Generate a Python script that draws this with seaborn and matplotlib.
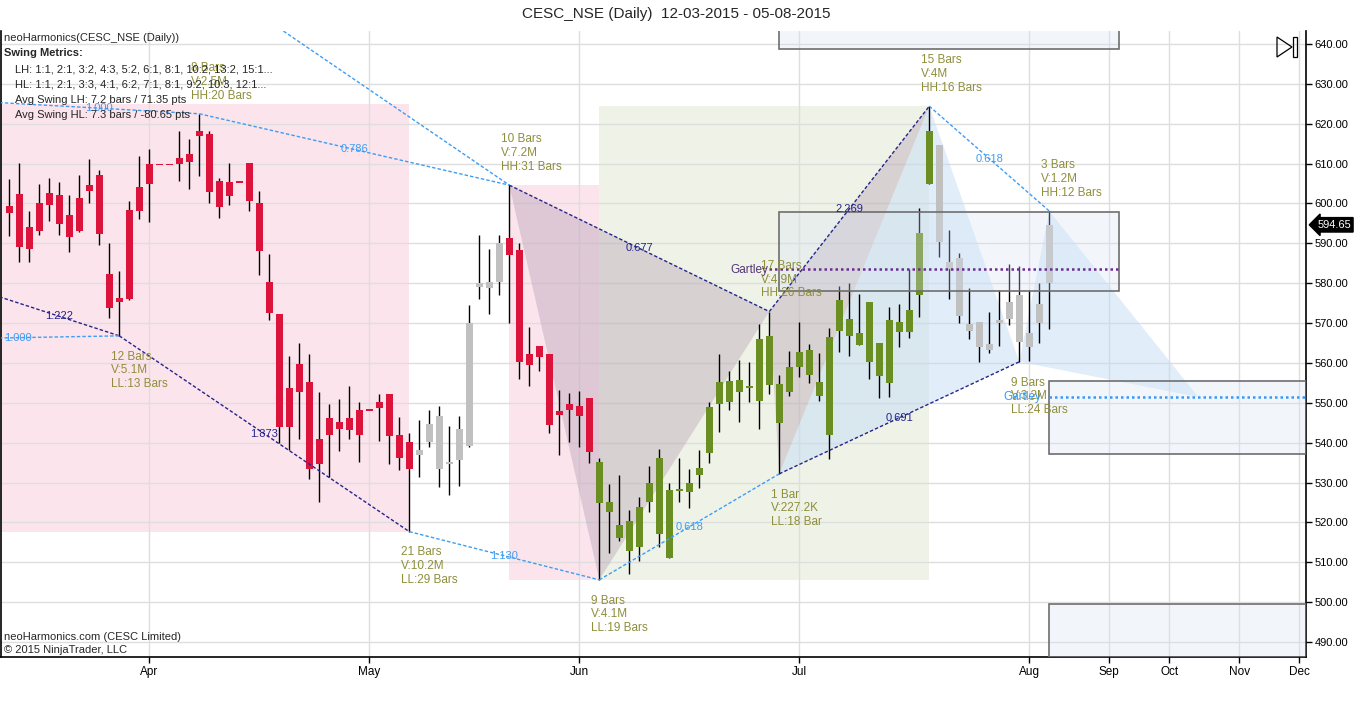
import numpy as np
import pandas as pd
import seaborn as sns
import matplotlib
matplotlib.use("Agg")
import matplotlib.pyplot as plt
from matplotlib.patches import Rectangle, Polygon

# daily bars, weekdays 12-03-2015 .. 05-08-2015 (holidays show as flat bars)
opens = [
    599.4, 602.4, 594.1, 600.1, 602.6, 602.1, 597.1, 601.4, 604.6, 607.2,
    582.3, 576.3, 598.4, 604.1, 609.9, 609.8, 609.8, 611.5, 612.4, 618.2,
    617.4, 605.6, 605.4, 605.3, 610.2, 600.1, 580.3, 572.3, 553.7, 559.7,
    555.2, 540.9, 546.2, 545.2, 546.2, 548.2, 548.2, 550.2, 552.2, 541.9,
    540.2, 537.0, 540.3, 533.3, 534.8, 535.6, 539.3, 579.1, 578.9, 580.2,
    591.3, 588.3, 562.3, 564.3, 562.3, 548.0, 549.7, 549.2, 551.2, 525.0,
    522.7, 516.2, 512.9, 513.9, 525.2, 517.2, 511.2, 528.1, 527.7, 532.0,
    537.5, 549.8, 550.3, 552.8, 554.0, 550.5, 554.4, 545.0, 552.8, 559.1,
    557.1, 551.8, 542.0, 568.1, 566.8, 564.6, 560.3, 556.8, 555.1, 567.8,
    567.8, 577.1, 605.0, 590.4, 583.6, 571.9, 568.1, 564.1, 563.3, 569.9,
    571.1, 565.3, 564.1, 570.1, 580.1]
highs = [
    606.1, 610.2, 598.1, 604.9, 606.4, 605.4, 602.1, 607.2, 611.2, 608.4,
    590.1, 583.1, 600.6, 612.0, 613.7, 609.8, 609.8, 618.3, 616.2, 622.5,
    618.2, 606.4, 610.2, 605.3, 610.2, 603.1, 587.3, 572.3, 561.8, 565.0,
    562.3, 552.7, 549.7, 551.0, 554.2, 550.2, 548.2, 552.2, 552.2, 546.5,
    542.4, 545.7, 548.2, 549.2, 544.2, 546.7, 574.5, 592.1, 588.6, 592.1,
    604.6, 590.1, 569.0, 564.3, 562.3, 553.2, 552.5, 553.0, 551.2, 536.2,
    529.6, 531.9, 523.1, 526.4, 534.2, 538.4, 530.0, 536.2, 533.4, 538.2,
    550.2, 562.3, 558.0, 560.7, 560.3, 569.8, 572.9, 557.0, 563.0, 570.3,
    564.8, 562.5, 568.8, 579.3, 580.1, 577.3, 575.3, 565.0, 574.0, 574.8,
    583.6, 598.9, 624.4, 614.7, 593.4, 587.6, 578.8, 570.3, 572.8, 578.3,
    584.7, 584.4, 578.3, 580.1, 598.1]
lows = [
    591.9, 585.2, 585.2, 592.2, 595.7, 592.2, 587.9, 592.9, 600.2, 589.6,
    571.2, 566.8, 575.9, 596.2, 595.4, 609.8, 609.8, 605.7, 603.7, 607.0,
    600.2, 596.4, 599.5, 605.3, 598.2, 582.1, 570.8, 539.9, 538.2, 541.0,
    530.8, 525.2, 531.5, 538.0, 541.0, 535.2, 548.2, 540.5, 534.7, 533.2,
    517.7, 531.5, 539.0, 528.8, 527.0, 529.2, 539.0, 576.1, 572.4, 577.1,
    570.1, 556.1, 554.1, 558.1, 542.5, 537.0, 540.3, 538.8, 535.0, 505.6,
    512.4, 515.4, 507.1, 510.4, 522.7, 513.9, 511.2, 525.2, 523.7, 528.6,
    535.0, 542.8, 548.3, 545.3, 550.3, 543.5, 552.1, 532.2, 551.8, 556.6,
    555.1, 550.5, 536.0, 562.8, 561.8, 564.6, 556.1, 551.3, 551.5, 564.1,
    566.3, 571.6, 605.0, 586.7, 576.1, 570.1, 566.1, 560.3, 562.6, 564.3,
    569.4, 560.3, 560.6, 565.1, 568.4]
closes = [
    597.7, 589.2, 588.7, 593.2, 599.5, 594.9, 591.7, 593.2, 603.2, 592.3,
    573.9, 575.4, 576.1, 598.2, 605.0, 609.8, 609.8, 610.0, 610.5, 616.8,
    603.0, 599.2, 602.0, 605.3, 600.5, 588.2, 572.6, 544.0, 544.0, 552.8,
    533.5, 534.7, 542.0, 543.5, 543.3, 542.0, 548.2, 548.8, 541.8, 536.2,
    533.5, 538.2, 544.7, 546.7, 535.2, 543.4, 570.0, 580.1, 580.3, 590.1,
    587.2, 560.3, 559.6, 561.6, 544.5, 547.0, 548.3, 546.8, 537.7, 535.2,
    525.1, 519.3, 520.4, 523.8, 529.9, 536.2, 528.1, 528.3, 529.9, 533.7,
    549.0, 555.2, 555.5, 555.7, 554.1, 565.9, 566.8, 554.7, 559.0, 562.8,
    563.3, 555.2, 566.5, 575.8, 571.0, 567.5, 575.3, 565.0, 570.8, 570.3,
    573.3, 592.5, 618.2, 614.7, 585.4, 586.3, 569.7, 570.3, 564.7, 570.8,
    575.3, 577.1, 567.5, 574.8, 594.65]

# swing painting of the bars (first bar, last bar, direction)
swing_ranges = [(0, 40, "down"), (41, 49, "flat"), (50, 58, "down"),
                (59, 92, "up"), (93, 104, "flat")]

# swing pivots (bar, H/L) and their info labels
pivot_bars = [11, 19, 40, 50, 59, 76, 77, 92, 101, 104]
pivot_kind = ["L", "H", "L", "H", "L", "H", "L", "H", "L", "H"]
pivot_info = ["12 Bars\nV:5.1M\nLL:13 Bars", "8 Bars\nV:2.5M\nHH:20 Bars",
              "21 Bars\nV:10.2M\nLL:29 Bars", "10 Bars\nV:7.2M\nHH:31 Bars",
              "9 Bars\nV:4.1M\nLL:19 Bars", "17 Bars\nV:4.9M\nHH:26 Bars",
              "1 Bar\nV:227.2K\nLL:18 Bar", "15 Bars\nV:4M\nHH:16 Bars",
              "9 Bars\nV:3.2M\nLL:24 Bars", "3 Bars\nV:1.2M\nHH:12 Bars"]

# swing legs: start (pivot bar or off-chart point), end pivot, kind, ratio
legs = [((-1.0, 576.6), 11, "dark", "1.222"),
        ((-9.2, 565.9), 11, "light", "1.000"),
        ((-1.0, 625.3), 19, "light", "1.000"),
        (19, 50, "light", "0.786"),
        ((26.5, 644.8), 50, "light", None),
        (11, 40, "dark", "1.873"),
        (40, 59, "light", "1.130"),
        (50, 76, "dark", "0.677"),
        (59, 77, "light", "0.618"),
        (76, 92, "dark", "2.269"),
        (77, 101, "dark", "0.691"),
        (92, 104, "light", "0.618")]

# Gartley patterns: X, A, B, C pivots and projected D
gartley_done = [50, 59, 76, 77, 92]
gartley_open = [77, 92, 101, 104, (118.9, 551.46)]

# swing zones: (from bar, to bar, top, bottom)
zones = [(-1.0, 40, 624.95, 517.7, "down"),
         (50, 59, 604.6, 505.6, "down"),
         (59, 92, 624.4, 505.6, "up")]

# PRZ / target boxes: (from bar, to bar, bottom, top)
boxes = [(77, 111, 638.75, 650.0), (77, 111, 578.05, 597.8),
         (104, 135, 537.1, 555.4), (104, 135, 480.0, 499.5)]
gartley_levels = [(76, 111, 583.57, "#6a2c91"), (104, 135, 551.46, "#3399ff")]

month_pos = [14, 36, 57, 79, 102, 110, 116, 123, 129]
month_labels = ["Apr", "May", "Jun", "Jul", "Aug", "Sep", "Oct", "Nov", "Dec"]
price_ticks = list(range(490, 641, 10))

# ---------------------------------------------------------------------------
sns.set_theme(style="white")
plt.rcParams["font.family"] = ["Liberation Sans", "DejaVu Sans"]

W, H = 1360, 702
fig = plt.figure(figsize=(W / 100, H / 100), dpi=100)
ax = fig.add_axes([1 / W, 1 - 656.5 / H, 1305 / W, 625.5 / H])

df = pd.DataFrame({"open": opens, "high": highs, "low": lows, "close": closes})
df["bar"] = np.arange(len(df))
df["swing"] = "flat"
for a, b, s in swing_ranges:
    df.loc[a:b, "swing"] = s

candle_colors = {"down": "#dc143c", "up": "#6b8e23", "flat": "#c0c0c0"}
zone_colors = {"down": "#fce4ec", "up": "#eff3e7"}
dark, light = "#25258c", "#3d9df5"


def pivot(p):
    if isinstance(p, tuple):
        return p
    k = pivot_kind[pivot_bars.index(p)]
    return (p, df.high[p] if k == "H" else df.low[p])


for x0, x1, top, bot, s in zones:
    ax.add_patch(Rectangle((x0, bot), x1 - x0, top - bot, color=zone_colors[s],
                           lw=0, zorder=0.1))

# pattern triangles (under the bars)
for pts, col, al in [(gartley_done, "#b4a0b4", 0.4), (gartley_open, "#c5dcf5", 0.5)]:
    P = [pivot(p) for p in pts]
    ax.add_patch(Polygon(P[0:3], closed=True, color=col, alpha=al, lw=0, zorder=1.5))
    ax.add_patch(Polygon(P[2:5], closed=True, color=col, alpha=al, lw=0, zorder=1.5))

# candles
ax.vlines(df.bar, df.low, df.high, color="black", lw=1.0, zorder=2)
lo = np.minimum(df.open, df.close)
hi = np.maximum(df.open, df.close)
hgt = np.maximum(hi - lo, 0.45)
ax.bar(df.bar, hgt, bottom=(lo + hi) / 2 - hgt / 2, width=0.68,
       color=[candle_colors[s] for s in df.swing], lw=0, zorder=2.1)

for x0, x1, b, t in boxes:
    ax.add_patch(Rectangle((x0, b), x1 - x0, t - b, facecolor="#d7e4f5", alpha=0.3,
                           edgecolor="none", zorder=2.6))
    ax.add_patch(Rectangle((x0, b), x1 - x0, t - b, fill=False,
                           edgecolor="#6e6e6e", lw=1.2, zorder=2.7))

for x0, x1, y, col in gartley_levels:
    ax.plot([x0, x1], [y, y], ls=(0, (1, 1.2)), color=col, lw=1.8, zorder=3)

for a, b, kind, lab in legs:
    p0, p1 = pivot(a), pivot(b)
    col = dark if kind == "dark" else light
    ax.plot([p0[0], p1[0]], [p0[1], p1[1]], color=col, lw=1.0,
            ls=(0, (2.5, 1.5)), zorder=3.2)
    if lab:
        ax.text((p0[0] + p1[0]) / 2, (p0[1] + p1[1]) / 2, lab, color=col,
                fontsize=8, ha="center", va="center", zorder=4)

for p, k, txt in zip(pivot_bars, pivot_kind, pivot_info):
    x, y = pivot(p)
    y = y + 13.0 if k == "H" else y - 3.7
    ax.text(x - 0.8, y, txt, color="#8e8e3c", fontsize=8.5, ha="left", va="top",
            linespacing=1.2, zorder=4)

ax.text(75.9, 583.4, "Gartley", color="#553377", fontsize=8.5, ha="right",
        va="center", zorder=4)
ax.text(99.4, 551.4, "Gartley", color="#3399ff", fontsize=8.5, ha="left",
        va="center", zorder=4)

# axes
ax.set_xlim(-0.83, 129.67)
ax.set_ylim(486.38, 643.26)
ax.set_xticks(month_pos)
ax.set_xticklabels(month_labels)
ax.set_yticks(price_ticks)
ax.set_yticklabels([f"{v:.2f}" for v in price_ticks])
ax.grid(True, color="#dedede", lw=1)
ax.set_axisbelow(True)
ax.set_facecolor("white")
ax.yaxis.tick_right()
ax.tick_params(axis="y", right=True, left=False, direction="out", length=4,
               width=1, colors="black", labelsize=8, pad=2)
ax.tick_params(axis="x", bottom=True, direction="out", length=4, width=1,
               colors="black", labelsize=8.5, pad=3)
ax.spines["top"].set_visible(False)
for s in ["left", "right", "bottom"]:
    ax.spines[s].set_color("black")
    ax.spines[s].set_linewidth(1.2)

ax.annotate(f"{closes[-1]:.2f}", xy=(1.0, closes[-1]),
            xycoords=("axes fraction", "data"), xytext=(8, 0),
            textcoords="offset points", color="white", fontsize=8, va="center",
            ha="left", annotation_clip=False,
            bbox=dict(boxstyle="larrow,pad=0.2", fc="black", ec="black"))

# header / footer texts
fig.text(676 / W, 1 - 14 / H, "CESC_NSE (Daily)  12-03-2015 - 05-08-2015",
         ha="center", va="center", fontsize=11)
fig.text(4 / W, 1 - 38 / H, "neoHarmonics(CESC_NSE (Daily))", fontsize=8, va="center")
fig.text(4 / W, 1 - 53 / H, "Swing Metrics:", fontsize=8, fontweight="bold", va="center")
metrics = ["LH: 1:1, 2:1, 3:2, 4:3, 5:2, 6:1, 8:1, 10:2, 13:2, 15:1...",
           "HL: 1:1, 2:1, 3:3, 4:1, 6:2, 7:1, 8:1, 9:2, 10:3, 12:1...",
           "Avg Swing LH: 7.2 bars / 71.35 pts",
           "Avg Swing HL: 7.3 bars / -80.65 pts"]
for k, line in enumerate(metrics):
    fig.text(15 / W, 1 - (69 + 15.5 * k) / H, line, fontsize=8, va="center")
fig.text(4 / W, 1 - 637 / H, "neoHarmonics.com (CESC Limited)", fontsize=8, va="center")
fig.text(4 / W, 1 - 650 / H, "\u00a9 2015 NinjaTrader, LLC", fontsize=8, va="center")

# chart-trader style arrow icon top right
fig.add_artist(Polygon([(1277 / W, 1 - 37 / H), (1292 / W, 1 - 47 / H), (1277 / W, 1 - 57 / H)],
                       closed=True, fill=False, ec="black", lw=0.9,
                       transform=fig.transFigure))
fig.add_artist(Rectangle((1293 / W, 1 - 57 / H), 4 / W, 20 / H, fill=False, ec="black",
                         lw=0.9, transform=fig.transFigure))

fig.savefig("out.png", dpi=100)
